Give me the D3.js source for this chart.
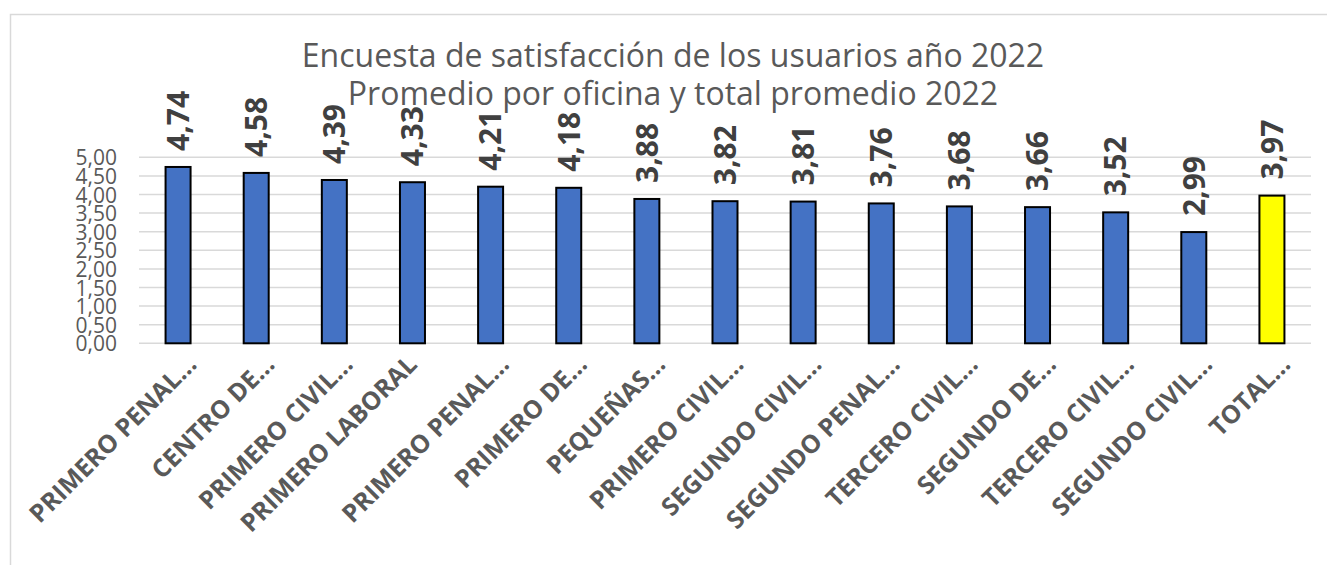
<!DOCTYPE html>
<html>
<head>
<meta charset="UTF-8" />
<title>Encuesta de satisfacción 2022</title>
<script src="https://cdnjs.cloudflare.com/ajax/libs/d3/7.8.5/d3.min.js"></script>
<style>
  body { margin: 0; background: #fff; }
  svg text { font-family: "Open Sans", Lato, sans-serif; }
</style>
</head>
<body>
<script>
// datos del grafico
var oficinas = ["PRIMERO PENAL…", "CENTRO DE…", "PRIMERO CIVIL…", "PRIMERO LABORAL",
  "PRIMERO PENAL…", "PRIMERO DE…", "PEQUEÑAS…", "PRIMERO CIVIL…", "SEGUNDO CIVIL…",
  "SEGUNDO PENAL…", "TERCERO CIVIL…", "SEGUNDO DE…", "TERCERO CIVIL…", "SEGUNDO CIVIL…", "TOTAL…"];
var promedios = [4.74, 4.58, 4.39, 4.33, 4.21, 4.18, 3.88, 3.82, 3.81, 3.76, 3.68, 3.66, 3.52, 2.99, 3.97];
var yTicks = [0, 0.5, 1, 1.5, 2, 2.5, 3, 3.5, 4, 4.5, 5];
var titulo = ["Encuesta de satisfacción de los usuarios año 2022", "Promedio por oficina y total promedio 2022"];

var W = 1327, H = 565;
var fmt = function(v) { return v.toFixed(2).replace(".", ","); };

var svg = d3.select("body").append("svg")
  .attr("width", W)
  .attr("height", H);

// marco
svg.append("rect")
  .attr("x", 10.5).attr("y", 14.5)
  .attr("width", W + 20).attr("height", H + 20)
  .attr("fill", "none")
  .attr("stroke", "#d9d9d9")
  .attr("stroke-width", 1.5);

var x = d3.scaleBand()
  .domain(d3.range(oficinas.length))
  .range([139, 1311])
  .paddingInner(0.68)
  .paddingOuter(0.34);

var y = d3.scaleLinear()
  .domain([0, 5])
  .range([343.3, 157.3]);

// lineas de cuadricula
svg.append("g")
  .selectAll("line")
  .data(yTicks)
  .enter()
  .append("line")
  .attr("x1", 139).attr("x2", 1311)
  .attr("y1", function(d) { return y(d); })
  .attr("y2", function(d) { return y(d); })
  .attr("stroke", "#d9d9d9")
  .attr("stroke-width", 1.5);

// eje y
var yAxis = svg.append("g")
  .attr("transform", "translate(139,0)")
  .call(d3.axisLeft(y).tickValues(yTicks).tickFormat(fmt).tickSize(0).tickPadding(22));
yAxis.select(".domain").remove();
yAxis.selectAll("text")
  .attr("fill", "#595959")
  .attr("dy", "0.36em")
  .style("font-size", "21px");

// barras
svg.append("g")
  .selectAll("rect")
  .data(promedios)
  .enter()
  .append("rect")
  .attr("x", function(d, i) { return x(i); })
  .attr("y", function(d) { return y(d); })
  .attr("width", x.bandwidth())
  .attr("height", function(d) { return y(0) - y(d); })
  .attr("fill", function(d, i) { return i === promedios.length - 1 ? "#ffff00" : "#4472c4"; })
  .attr("stroke", "#000")
  .attr("stroke-width", 2);

// etiquetas de valor
svg.append("g")
  .selectAll("text")
  .data(promedios)
  .enter()
  .append("text")
  .attr("transform", function(d, i) {
    return "translate(" + (x(i) + x.bandwidth() / 2) + "," + (y(d) - 16) + ") rotate(-90)";
  })
  .attr("dy", "0.36em")
  .attr("fill", "#404040")
  .style("font-size", "30px")
  .style("font-weight", "bold")
  .text(fmt);

// etiquetas de categoria
svg.append("g")
  .selectAll("text")
  .data(oficinas)
  .enter()
  .append("text")
  .attr("transform", function(d, i) {
    var off = d.slice(-1) === "…" ? 20 : 6;
    return "translate(" + (x(i) + x.bandwidth() / 2 + off) + ",366) rotate(-45)";
  })
  .attr("text-anchor", "end")
  .attr("fill", "#595959")
  .style("font-size", "25px")
  .style("font-weight", "bold")
  .text(function(d) { return d; });

// titulo
svg.append("g")
  .selectAll("text")
  .data(titulo)
  .enter()
  .append("text")
  .attr("x", 673)
  .attr("y", function(d, i) { return 67 + i * 38; })
  .attr("text-anchor", "middle")
  .attr("fill", "#595959")
  .style("font-size", "32px")
  .text(function(d) { return d; });
</script>
</body>
</html>
